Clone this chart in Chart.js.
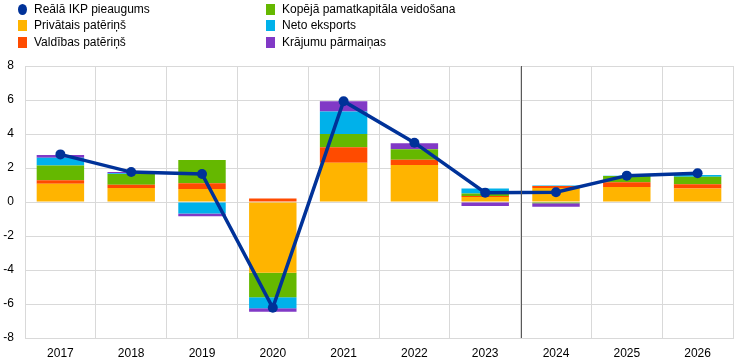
<!DOCTYPE html>
<html>
<head>
<meta charset="utf-8">
<script src="https://cdn.jsdelivr.net/npm/chart.js@4/dist/chart.umd.min.js"></script>
<style>
  html, body { margin: 0; padding: 0; background: #fff; }
  #wrap { position: relative; width: 744px; height: 364px; font-family: "Liberation Sans", Arial, sans-serif; }
  #legend { position: absolute; left: 0; top: 0; width: 744px; height: 56px; font-size: 12px; color: #000; }
  .item { position: absolute; display: flex; align-items: center; height: 14px; }
  .mk { width: 9px; height: 11px; margin-right: 7px; }
  .dot { width: 9px; height: 11px; border-radius: 50%; margin-right: 7px; }
  canvas { position: absolute; left: 0; top: 0; }
</style>
</head>
<body>
<div id="wrap">
  <canvas id="c" width="744" height="364"></canvas>
  <div id="legend"></div>
</div>
<script>
const categories = ["2017","2018","2019","2020","2021","2022","2023","2024","2025","2026"];
const gdpGrowth       = [2.8, 1.76, 1.65, -6.22, 5.93, 3.49, 0.55, 0.57, 1.55, 1.69];
const privateCons     = [1.08, 0.82, 0.76, -4.16, 2.31, 2.18, 0.3, 0.82, 0.88, 0.8];
const governmentCons  = [0.2, 0.2, 0.34, 0.2, 0.91, 0.31, 0.06, 0.12, 0.28, 0.24];
const grossInvestment = [0.86, 0.63, 1.37, -1.44, 0.78, 0.61, 0.14, -0.08, 0.37, 0.45];
const netExports      = [0.47, 0.04, -0.67, -0.65, 1.33, 0.0, 0.29, 0.03, 0.02, 0.1];
const inventories     = [0.16, 0.07, -0.17, -0.2, 0.59, 0.35, -0.24, -0.2, 0.0, 0.0];
const yTicks = [-8, -6, -4, -2, 0, 2, 4, 6, 8];
const dividerAfter = "2023";

const labels = {
  gdp: "Reālā IKP pieaugums",
  priv: "Privātais patēriņš",
  gov: "Valdības patēriņš",
  gfcf: "Kopējā pamatkapitāla veidošana",
  nx: "Neto eksports",
  inv: "Krājumu pārmaiņas"
};
const colors = {
  gdp: "#003299", priv: "#FFB400", gov: "#FF4B00",
  gfcf: "#65B800", nx: "#00B1EA", inv: "#8139C6"
};

// HTML legend (two columns)
const legendItems = [
  {k:"gdp", x:18, y:2, dot:true},
  {k:"priv", x:18, y:18},
  {k:"gov", x:18, y:35},
  {k:"gfcf", x:266, y:2},
  {k:"nx", x:266, y:18},
  {k:"inv", x:266, y:35}
];
const lg = document.getElementById("legend");
legendItems.forEach(it => {
  const d = document.createElement("div");
  d.className = "item";
  d.style.left = it.x + "px";
  d.style.top = it.y + "px";
  const m = document.createElement("span");
  m.className = it.dot ? "dot" : "mk";
  m.style.background = colors[it.k];
  d.appendChild(m);
  const t = document.createElement("span");
  t.textContent = labels[it.k];
  d.appendChild(t);
  lg.appendChild(d);
});

const dividerPlugin = {
  id: "divider",
  afterDatasetsDraw(chart) {
    const xs = chart.scales.x, ys = chart.scales.y;
    const i = categories.indexOf(dividerAfter);
    const px = Math.round(xs.getPixelForValue(i + 0.5)) + 0.5;
    const ctx = chart.ctx;
    ctx.save();
    ctx.strokeStyle = "#595959";
    ctx.lineWidth = 1;
    ctx.beginPath();
    ctx.moveTo(px, ys.top);
    ctx.lineTo(px, ys.bottom);
    ctx.stroke();
    ctx.restore();
  }
};

const barDs = (key, data) => ({
  type: "bar", label: labels[key], data, backgroundColor: colors[key],
  borderWidth: 0, stack: "s", order: 1,
  barPercentage: 0.67, categoryPercentage: 1.0
});

new Chart(document.getElementById("c"), {
  data: {
    labels: categories,
    datasets: [
      {
        type: "line", label: labels.gdp, data: gdpGrowth, stack: "line", order: 0,
        borderColor: colors.gdp, backgroundColor: colors.gdp, borderWidth: 3.5,
        pointRadius: 5, pointHoverRadius: 5, pointBackgroundColor: colors.gdp,
        pointBorderWidth: 0, tension: 0, fill: false
      },
      barDs("priv", privateCons),
      barDs("gov", governmentCons),
      barDs("gfcf", grossInvestment),
      barDs("nx", netExports),
      barDs("inv", inventories)
    ]
  },
  options: {
    responsive: false,
    animation: false,
    layout: { padding: { top: 66, right: 11, left: 0, bottom: 0 } },
    plugins: { legend: { display: false }, tooltip: { enabled: false } },
    scales: {
      x: {
        stacked: true,
        offset: true,
        grid: { offset: true, color: "#d9d9d9", lineWidth: 1, drawTicks: false },
        border: { color: "#d9d9d9" },
        ticks: { color: "#000", font: { family: "Liberation Sans, Arial", size: 12 }, padding: 8, maxRotation: 0 },
        afterFit(s) { s.height = 26; }
      },
      y: {
        stacked: true,
        min: -8, max: 8,
        afterBuildTicks(s) { s.ticks = yTicks.map(v => ({ value: v })); },
        grid: { color: "#d9d9d9", lineWidth: 1, drawTicks: false },
        border: { color: "#d9d9d9" },
        ticks: { color: "#000", font: { family: "Liberation Sans, Arial", size: 12 }, padding: 11 },
        afterFit(s) { s.width = 25; }
      }
    }
  },
  plugins: [dividerPlugin]
});
</script>
</body>
</html>
